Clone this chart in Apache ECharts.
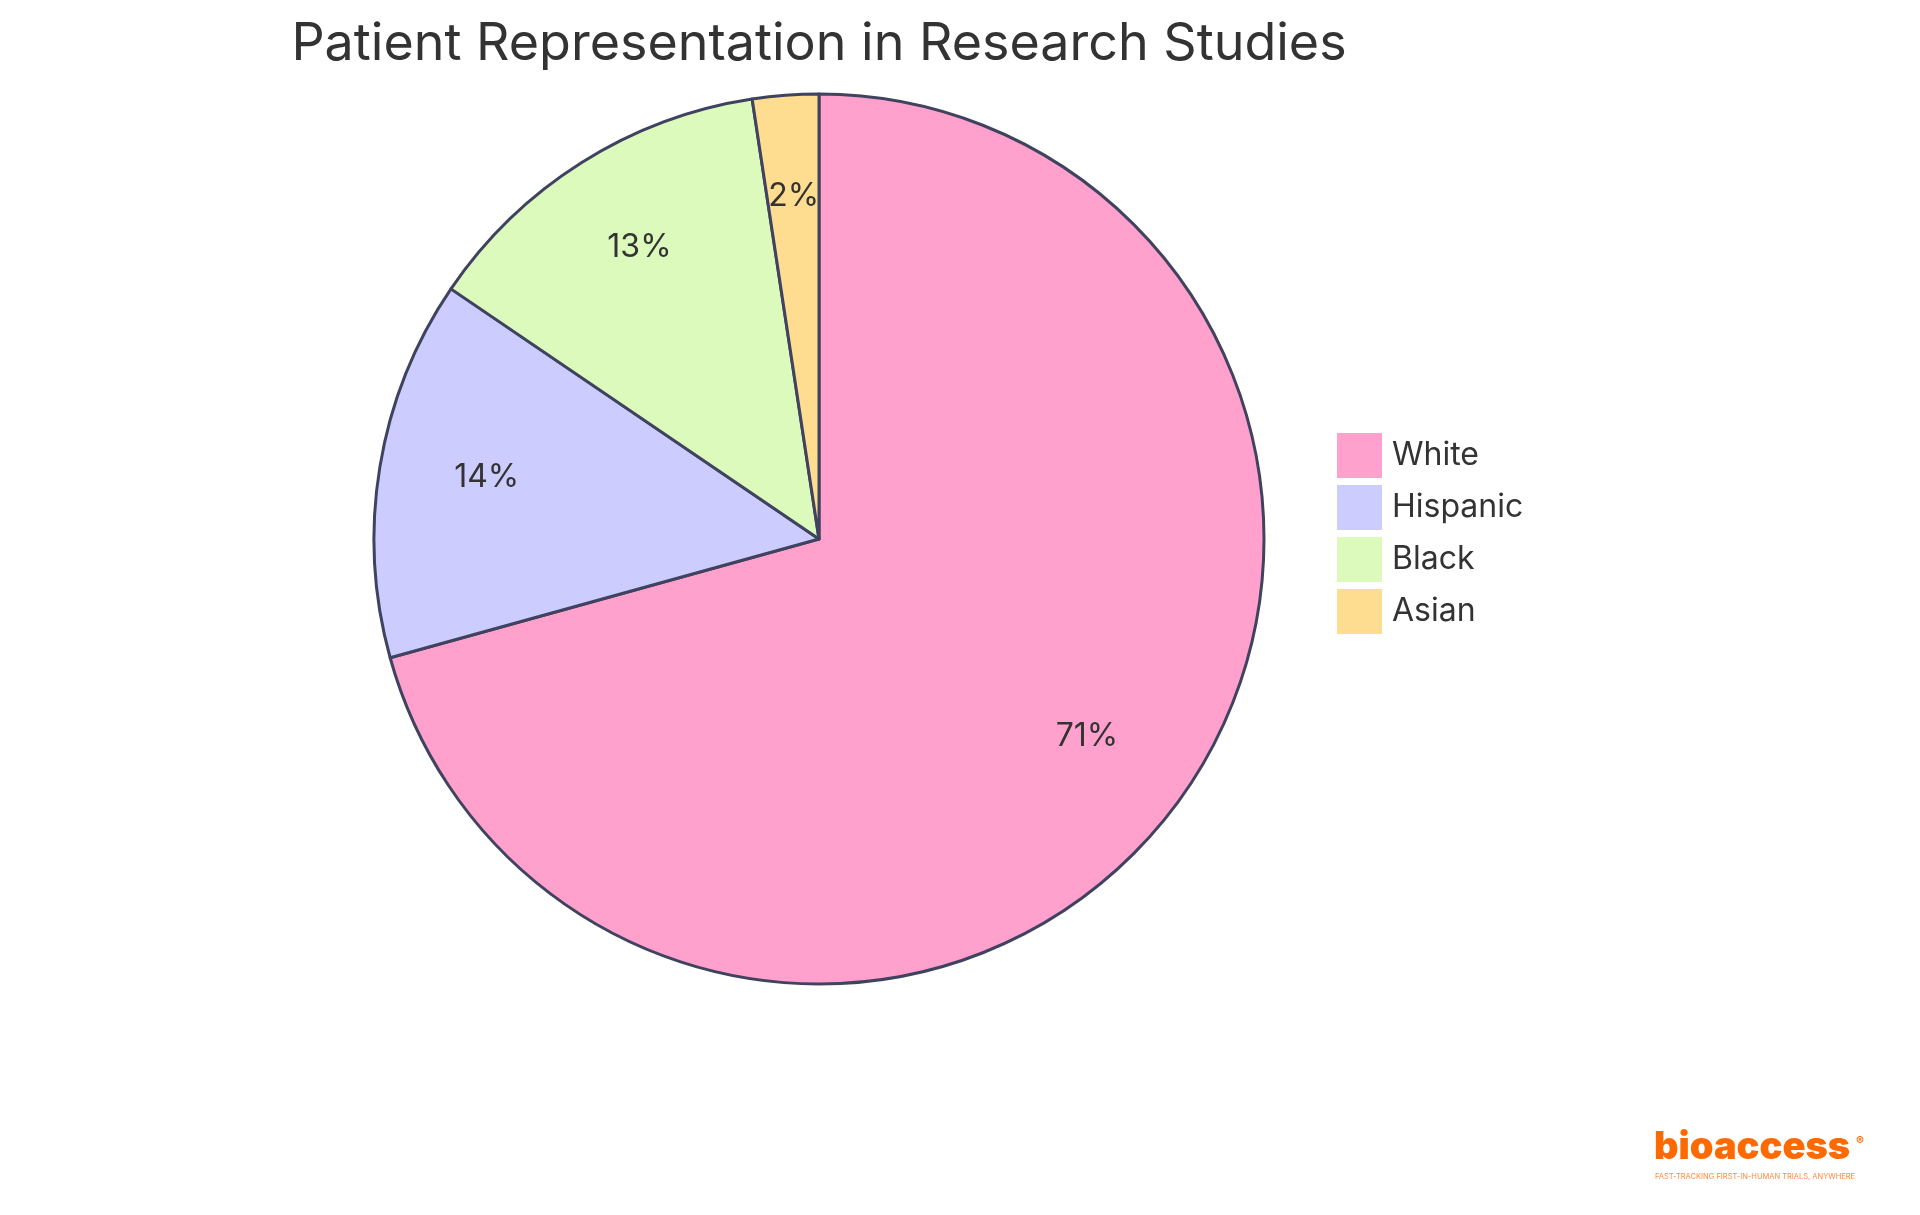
<!DOCTYPE html>
<html>
<head>
<meta charset="utf-8">
<script src="https://cdn.jsdelivr.net/npm/echarts@6/dist/echarts.min.js"></script>
<style>html,body{margin:0;padding:0;background:#fff;}#c{width:1920px;height:1215px;}</style>
</head>
<body>
<div id="c"></div>
<script>
const titleText = 'Patient Representation in Research Studies';
const categories = ['White', 'Hispanic', 'Black', 'Asian'];
const values = [70.7, 13.8, 13.1, 2.4];
const colors = ['#FFA1CC', '#CCCCFF', '#DDFABD', '#FFDD90'];

const chart = echarts.init(document.getElementById('c'));
const total = values.reduce((a, b) => a + b, 0);
const data = categories.map((n, i) => ({ name: n, value: values[i], itemStyle: { color: colors[i] } }));
const cx = 819, cy = 539, R = 445;
chart.setOption({
  animation: false,
  legend: {
    orient: 'vertical', left: 1337, top: 433, padding: 0,
    itemWidth: 45, itemHeight: 45, itemGap: 7,
    icon: 'rect',
    itemStyle: { borderWidth: 0 },
    textStyle: { fontFamily: 'Inter', fontSize: 32, color: '#333', padding: [4, 0, 0, 5] },
    data: categories
  },
  graphic: [
    { type: 'text', x: cx, y: 44, style: { text: titleText, fontFamily: 'Inter', fontSize: 52, fill: '#333', textAlign: 'center', textVerticalAlign: 'middle' } },
    { type: 'text', x: 1654, y: 1148, style: { text: 'bioaccess', fontFamily: 'Inter', fontWeight: 900, fontSize: 38, fill: '#FF6A00', textAlign: 'left', textVerticalAlign: 'middle' } },
    { type: 'text', x: 1860, y: 1141, style: { text: '®', fontFamily: 'Inter', fontWeight: 700, fontSize: 12, fill: '#FF6A00', textAlign: 'center', textVerticalAlign: 'middle' } },
    { type: 'text', x: 1655, y: 1177, style: { text: 'FAST-TRACKING FIRST-IN-HUMAN TRIALS, ANYWHERE', fontFamily: 'Inter', fontSize: 7.5, fill: '#FF8A3D', textAlign: 'left', textVerticalAlign: 'middle' } }
  ],
  series: [
    {
      type: 'pie', center: [cx, cy], radius: [0, R], startAngle: 90, clockwise: true,
      label: { show: false }, labelLine: { show: false },
      itemStyle: { borderColor: '#40435F', borderWidth: 3 },
      emphasis: { disabled: true },
      data: data
    },
    {
      type: 'pie', center: [cx, cy], radius: [R * 0.5, R], startAngle: 90, clockwise: true,
      silent: true, legendHoverLink: false,
      itemStyle: { color: 'transparent', borderWidth: 0 },
      label: {
        show: true, position: 'inside', fontFamily: 'Inter', fontSize: 32, color: '#333',
        lineHeight: 38,
        formatter: p => Math.round(p.value / total * 100) + '%\n{s|}',
        rich: { s: { height: 14, lineHeight: 14, fontSize: 1 } }
      },
      labelLine: { show: false },
      emphasis: { disabled: true },
      data: categories.map((n, i) => ({ name: n + ' ', value: values[i], itemStyle: { color: 'transparent' } }))
    }
  ]
});
</script>
</body>
</html>
